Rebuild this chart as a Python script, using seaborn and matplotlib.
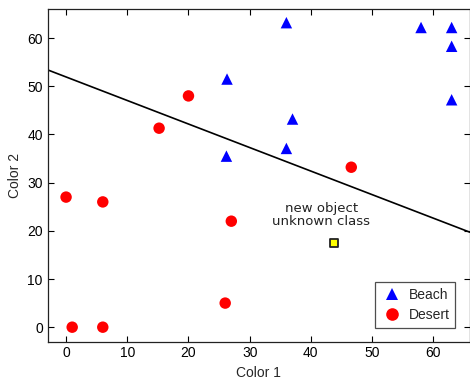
import pandas as pd
import matplotlib
matplotlib.use("Agg")
import matplotlib.pyplot as plt
import seaborn as sns

# Data
beach_x = [36, 58, 63, 63, 63, 26.3, 37, 36, 26.2]
beach_y = [63.2, 62.2, 62.2, 58.3, 47.2, 51.5, 43.2, 37.1, 35.5]
desert_x = [0, 6, 27, 26, 1, 6, 15.2, 20, 46.6]
desert_y = [27, 26, 22, 5, 0, 0, 41.3, 48, 33.2]
new_x = [43.7]
new_y = [17.5]
boundary_x = [-3, 66]
boundary_y = [53.4, 19.7]

df = pd.DataFrame({
    "Color 1": beach_x + desert_x,
    "Color 2": beach_y + desert_y,
    "class": ["Beach"] * len(beach_x) + ["Desert"] * len(desert_x),
})

sns.set_style("ticks")
plt.rcParams['font.family'] = ['Liberation Sans', 'DejaVu Sans']

fig = plt.figure(figsize=(4.7, 3.83), dpi=100)
ax = fig.add_axes([0.1015, 0.108, 0.8985, 0.868])

sns.lineplot(x=boundary_x, y=boundary_y, color="black", linewidth=1.2, ax=ax)
sns.scatterplot(data=df, x="Color 1", y="Color 2", hue="class", style="class",
                palette={"Beach": "#0000ff", "Desert": "#ff0000"},
                markers={"Beach": "^", "Desert": "o"}, s=68, linewidth=0,
                ax=ax, zorder=3)
ax.scatter(new_x, new_y, marker="s", s=32, color="#ffff00", edgecolor="#222222",
           linewidth=1.3, zorder=4)
ax.text(41.7, 23.3, "new object\nunknown class", ha="center", va="center",
        fontsize=9.5, color="#222222", linespacing=1.05, family="DejaVu Sans")

ax.set_xlim(-3, 66)
ax.set_ylim(-3, 66)
ax.set_xticks(range(0, 61, 10))
ax.set_yticks(range(0, 61, 10))
ax.tick_params(direction="in", top=True, right=True, labelsize=10, length=4,
               width=0.8, colors="black")
for sp in ax.spines.values():
    sp.set_linewidth(0.9)
    sp.set_color("#222222")
ax.set_xlabel("Color 1", fontsize=10)
ax.set_ylabel("Color 2", fontsize=10)

handles, labels = ax.get_legend_handles_labels()
leg = ax.legend(handles, labels, loc="lower right", bbox_to_anchor=(0.9645, 0.042),
                borderaxespad=0, fontsize=10, frameon=True, fancybox=False,
                edgecolor="#222222", handletextpad=0.4, handlelength=1.6,
                borderpad=0.4, labelspacing=0.45, markerscale=1.1)
leg.get_frame().set_linewidth(0.9)

fig.savefig("out.png", dpi=100)
